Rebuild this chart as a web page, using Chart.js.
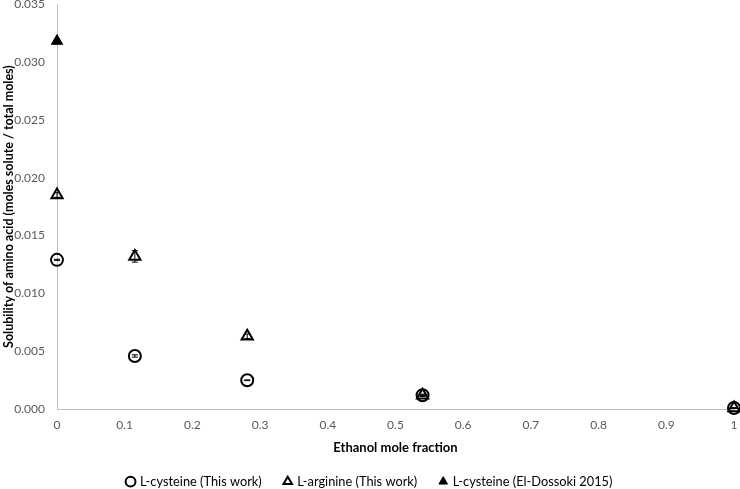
<!DOCTYPE html>
<html><head><meta charset="utf-8">
<script src="https://cdn.jsdelivr.net/npm/chart.js@4/dist/chart.umd.min.js"></script>
<style>html,body{margin:0;padding:0;background:#fff;overflow:hidden}#wrap{width:740px;height:489px}</style>
</head><body><div id="wrap"><canvas id="c" width="740" height="489"></canvas></div>
<script>
const ethanolFraction = [0, 0.115, 0.281, 0.540, 1.0];
const cysteineThisWork = [0.0129, 0.0046, 0.0025, 0.0012, 0.0001];
const cysteineErr = [0.00005, 0.0001, 0.00003, 0.00003, 0.00002];
const arginineThisWork = [0.0185, 0.0132, 0.0063, 0.0012, 0.0001];
const arginineErr = [0.0002, 0.0005, 0.0002, 0.0001, 0.00002];
const elDossokiX = [0];
const cysteineElDossoki = [0.0318];
const seriesNames = ["L-cysteine (This work)", "L-arginine (This work)", "L-cysteine (El-Dossoki 2015)"];

const FONT = "Lato, 'Open Sans', 'Liberation Sans', sans-serif";
const toPts = (xs, ys) => xs.map((x, i) => ({x: x, y: ys[i]}));

const errorBars = {
  id: 'errorBars',
  afterDatasetsDraw(chart) {
    const ctx = chart.ctx, xs = chart.scales.x, ys = chart.scales.y;
    chart.data.datasets.forEach((ds) => {
      if (!ds.errors) return;
      ctx.save();
      ctx.strokeStyle = '#000'; ctx.lineWidth = 1;
      ds.data.forEach((p, i) => {
        const e = ds.errors[i];
        const px = xs.getPixelForValue(p.x);
        const y1 = ys.getPixelForValue(p.y + e), y2 = ys.getPixelForValue(p.y - e);
        ctx.beginPath();
        ctx.moveTo(px, y1); ctx.lineTo(px, y2);
        ctx.moveTo(px - 3, y1); ctx.lineTo(px + 3, y1);
        ctx.moveTo(px - 3, y2); ctx.lineTo(px + 3, y2);
        ctx.stroke();
      });
      ctx.restore();
    });
  }
};

new Chart(document.getElementById('c'), {
  type: 'scatter',
  data: {
    datasets: [
      {label: seriesNames[0], data: toPts(ethanolFraction, cysteineThisWork), errors: cysteineErr, clip: false,
       pointStyle: 'circle', pointRadius: 6, pointBorderWidth: 2, borderWidth: 2, borderColor: '#000', backgroundColor: 'rgba(255,255,255,0)'},
      {label: seriesNames[1], data: toPts(ethanolFraction, arginineThisWork), errors: arginineErr, clip: false,
       pointStyle: 'triangle', pointRadius: 6.5, pointBorderWidth: 2, borderWidth: 2, borderColor: '#000', backgroundColor: 'rgba(255,255,255,0)'},
      {label: seriesNames[2], data: toPts(elDossokiX, cysteineElDossoki), clip: false,
       pointStyle: 'triangle', pointRadius: 6.5, pointBorderWidth: 1, borderWidth: 1, borderColor: '#000', backgroundColor: '#000'}
    ]
  },
  plugins: [errorBars],
  options: {
    responsive: false,
    animation: false,
    layout: {autoPadding: false, padding: {top: 0, right: 0, left: 0, bottom: -9}},
    plugins: {
      tooltip: {enabled: false},
      legend: {
        position: 'bottom',
        labels: {usePointStyle: true, boxWidth: 6, boxHeight: 7, padding: 23, color: '#000',
                 font: {family: FONT, size: 12.8}}
      }
    },
    scales: {
      x: {
        type: 'linear', min: 0, max: 1,
        afterFit: (s) => { s.paddingRight = 6; },
        grid: {display: false, drawTicks: false},
        border: {color: '#bfbfbf', width: 1},
        ticks: {stepSize: 0.1, padding: 9, color: '#595959', font: {family: FONT, size: 12},
                callback: v => (Math.round(v * 10) / 10).toString()},
        title: {display: true, text: 'Ethanol mole fraction', color: '#000', padding: {top: -2, bottom: -3},
                font: {family: FONT, size: 13, weight: 'bold'}}
      },
      y: {
        min: 0, max: 0.035,
        afterFit: (s) => { s.paddingTop = 4; s.width = 57; },
        grid: {display: false, drawTicks: false},
        border: {color: '#bfbfbf', width: 1},
        ticks: {stepSize: 0.005, padding: 12, color: '#595959', font: {family: FONT, size: 12},
                callback: v => v.toFixed(3)},
        title: {display: true, text: 'Solubility of amino acid (moles solute / total moles)', color: '#000', padding: {top: 1.5, bottom: 0},
                font: {family: FONT, size: 12.5, weight: 'bold'}}
      }
    }
  }
});
</script></body></html>
